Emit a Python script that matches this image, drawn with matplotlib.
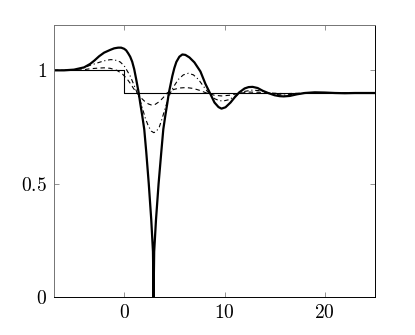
import numpy as np
import matplotlib.pyplot as plt

plt.rcParams['mathtext.fontset'] = 'cm'
plt.rcParams['font.family'] = 'serif'

# Funzione a gradino
step_x = [-7, 0, 0, 25]
step_y = [1.0, 1.0, 0.9, 0.9]

# Curva spessa (oscillazione piu' forte)
thick_x = [-7, -6, -5, -4, -3.4, -3, -2.5, -2, -1.4, -1, -0.6, -0.3, 0, 0.2, 0.4,
           0.6, 0.8, 1.0, 1.2, 1.45, 1.6, 1.8, 2.0, 2.2, 2.45, 2.7, 2.87, 2.93,
           2.99, 3.17, 3.43, 3.7, 3.9, 4.1, 4.3, 4.45, 4.8, 5.0, 5.2, 5.5, 5.8,
           6.1, 6.5, 7.0, 7.6, 8.1, 8.6, 9.0, 9.4, 9.7, 10.1, 10.6, 11.0, 11.45,
           12.0, 12.4, 12.8, 13.3, 13.8, 14.4, 15.0, 15.5, 15.9, 16.5, 17.2, 18.0,
           19.0, 20.0, 21, 22, 23, 24, 25]
thick_y = [1.0, 1.0, 1.003, 1.013, 1.028, 1.042, 1.062, 1.078, 1.09, 1.097, 1.1,
           1.1, 1.095, 1.088, 1.075, 1.06, 1.038, 1.005, 0.96, 0.9, 0.855, 0.8,
           0.74, 0.64, 0.5, 0.34, 0.2, 0.0, 0.2, 0.34, 0.5, 0.64, 0.74, 0.8,
           0.855, 0.9, 0.975, 1.01, 1.037, 1.06, 1.07, 1.068, 1.057, 1.035, 0.995,
           0.94, 0.895, 0.858, 0.838, 0.831, 0.837, 0.858, 0.88, 0.902, 0.92,
           0.926, 0.927, 0.922, 0.91, 0.899, 0.89, 0.886, 0.885, 0.887, 0.894,
           0.9, 0.903, 0.902, 0.9, 0.899, 0.9, 0.9, 0.9]

# Curva tratto-punto
dashdot_x = [-7, -6, -5, -4, -3.4, -2.5, -2, -1.4, -1, -0.4, 0, 0.27, 0.6, 0.93,
             1.3, 1.6, 1.8, 2.1, 2.4, 2.7, 2.95, 3.2, 3.5, 3.8, 4.1, 4.4, 4.6,
             4.93, 5.4, 5.9, 6.4, 6.9, 7.4, 7.93, 8.5, 9.0, 9.5, 9.9, 10.4, 10.9,
             11.4, 12.0, 12.8, 13.5, 14.4, 15.2, 16.0, 17.0, 18.5, 20, 22, 25]
dashdot_y = [1.0, 1.0, 1.003, 1.012, 1.022, 1.035, 1.042, 1.047, 1.047, 1.037,
             1.02, 1.0, 0.975, 0.94, 0.9, 0.865, 0.835, 0.79, 0.755, 0.732, 0.725,
             0.73, 0.75, 0.79, 0.835, 0.875, 0.9, 0.928, 0.96, 0.98, 0.987, 0.98,
             0.96, 0.928, 0.895, 0.875, 0.866, 0.865, 0.87, 0.882, 0.895, 0.907,
             0.913, 0.91, 0.9, 0.893, 0.891, 0.895, 0.901, 0.901, 0.9, 0.9]

# Curva tratteggiata
dashed_x = [-7, -5, -4, -3.4, -2.5, -2, -1.4, -0.73, -0.2, 0.27, 0.6, 0.93, 1.27,
            1.6, 2.0, 2.4, 2.77, 3.1, 3.5, 3.9, 4.27, 4.9, 5.5, 6.2, 6.9, 7.5, 8.2,
            9.0, 9.7, 10.5, 11.4, 12.4, 13.5, 14.5, 16, 18, 20, 25]
dashed_y = [1.0, 1.0, 1.003, 1.007, 1.01, 1.011, 1.009, 1.0, 0.985, 0.963, 0.943,
            0.92, 0.9, 0.882, 0.865, 0.852, 0.846, 0.85, 0.862, 0.88, 0.9, 0.915,
            0.922, 0.924, 0.92, 0.912, 0.9, 0.89, 0.887, 0.89, 0.898, 0.904, 0.903,
            0.9, 0.897, 0.9, 0.9, 0.9]

fig = plt.figure(figsize=(4.15, 3.35), dpi=100)
ax = fig.add_axes([0.130, 0.1134, 0.7736, 0.812])

ax.plot(step_x, step_y, color='k', lw=0.8)
ax.plot(dashed_x, dashed_y, color='k', lw=0.8, dashes=(4, 3))
ax.plot(dashdot_x, dashdot_y, color='k', lw=0.8, dashes=(4, 2.5, 1, 2.5))
ax.plot(thick_x, thick_y, color='k', lw=1.6, solid_joinstyle='round')

ax.set_xlim(-7, 25)
ax.set_ylim(0, 1.2)
ax.set_xticks([0, 10, 20])
ax.set_xticklabels(['$0$', '$10$', '$20$'])
ax.set_yticks([0, 0.5, 1])
ax.set_yticklabels(['$0$', '$0.5$', '$1$'])
ax.tick_params(direction='in', top=True, right=True, length=3.5, width=0.5,
               color='0.4', labelsize=14, pad=5)
for name, s in ax.spines.items():
    s.set_linewidth(0.7)
    s.set_color('0.45' if name in ('left', 'top') else 'k')

fig.savefig('out.png', dpi=100)
